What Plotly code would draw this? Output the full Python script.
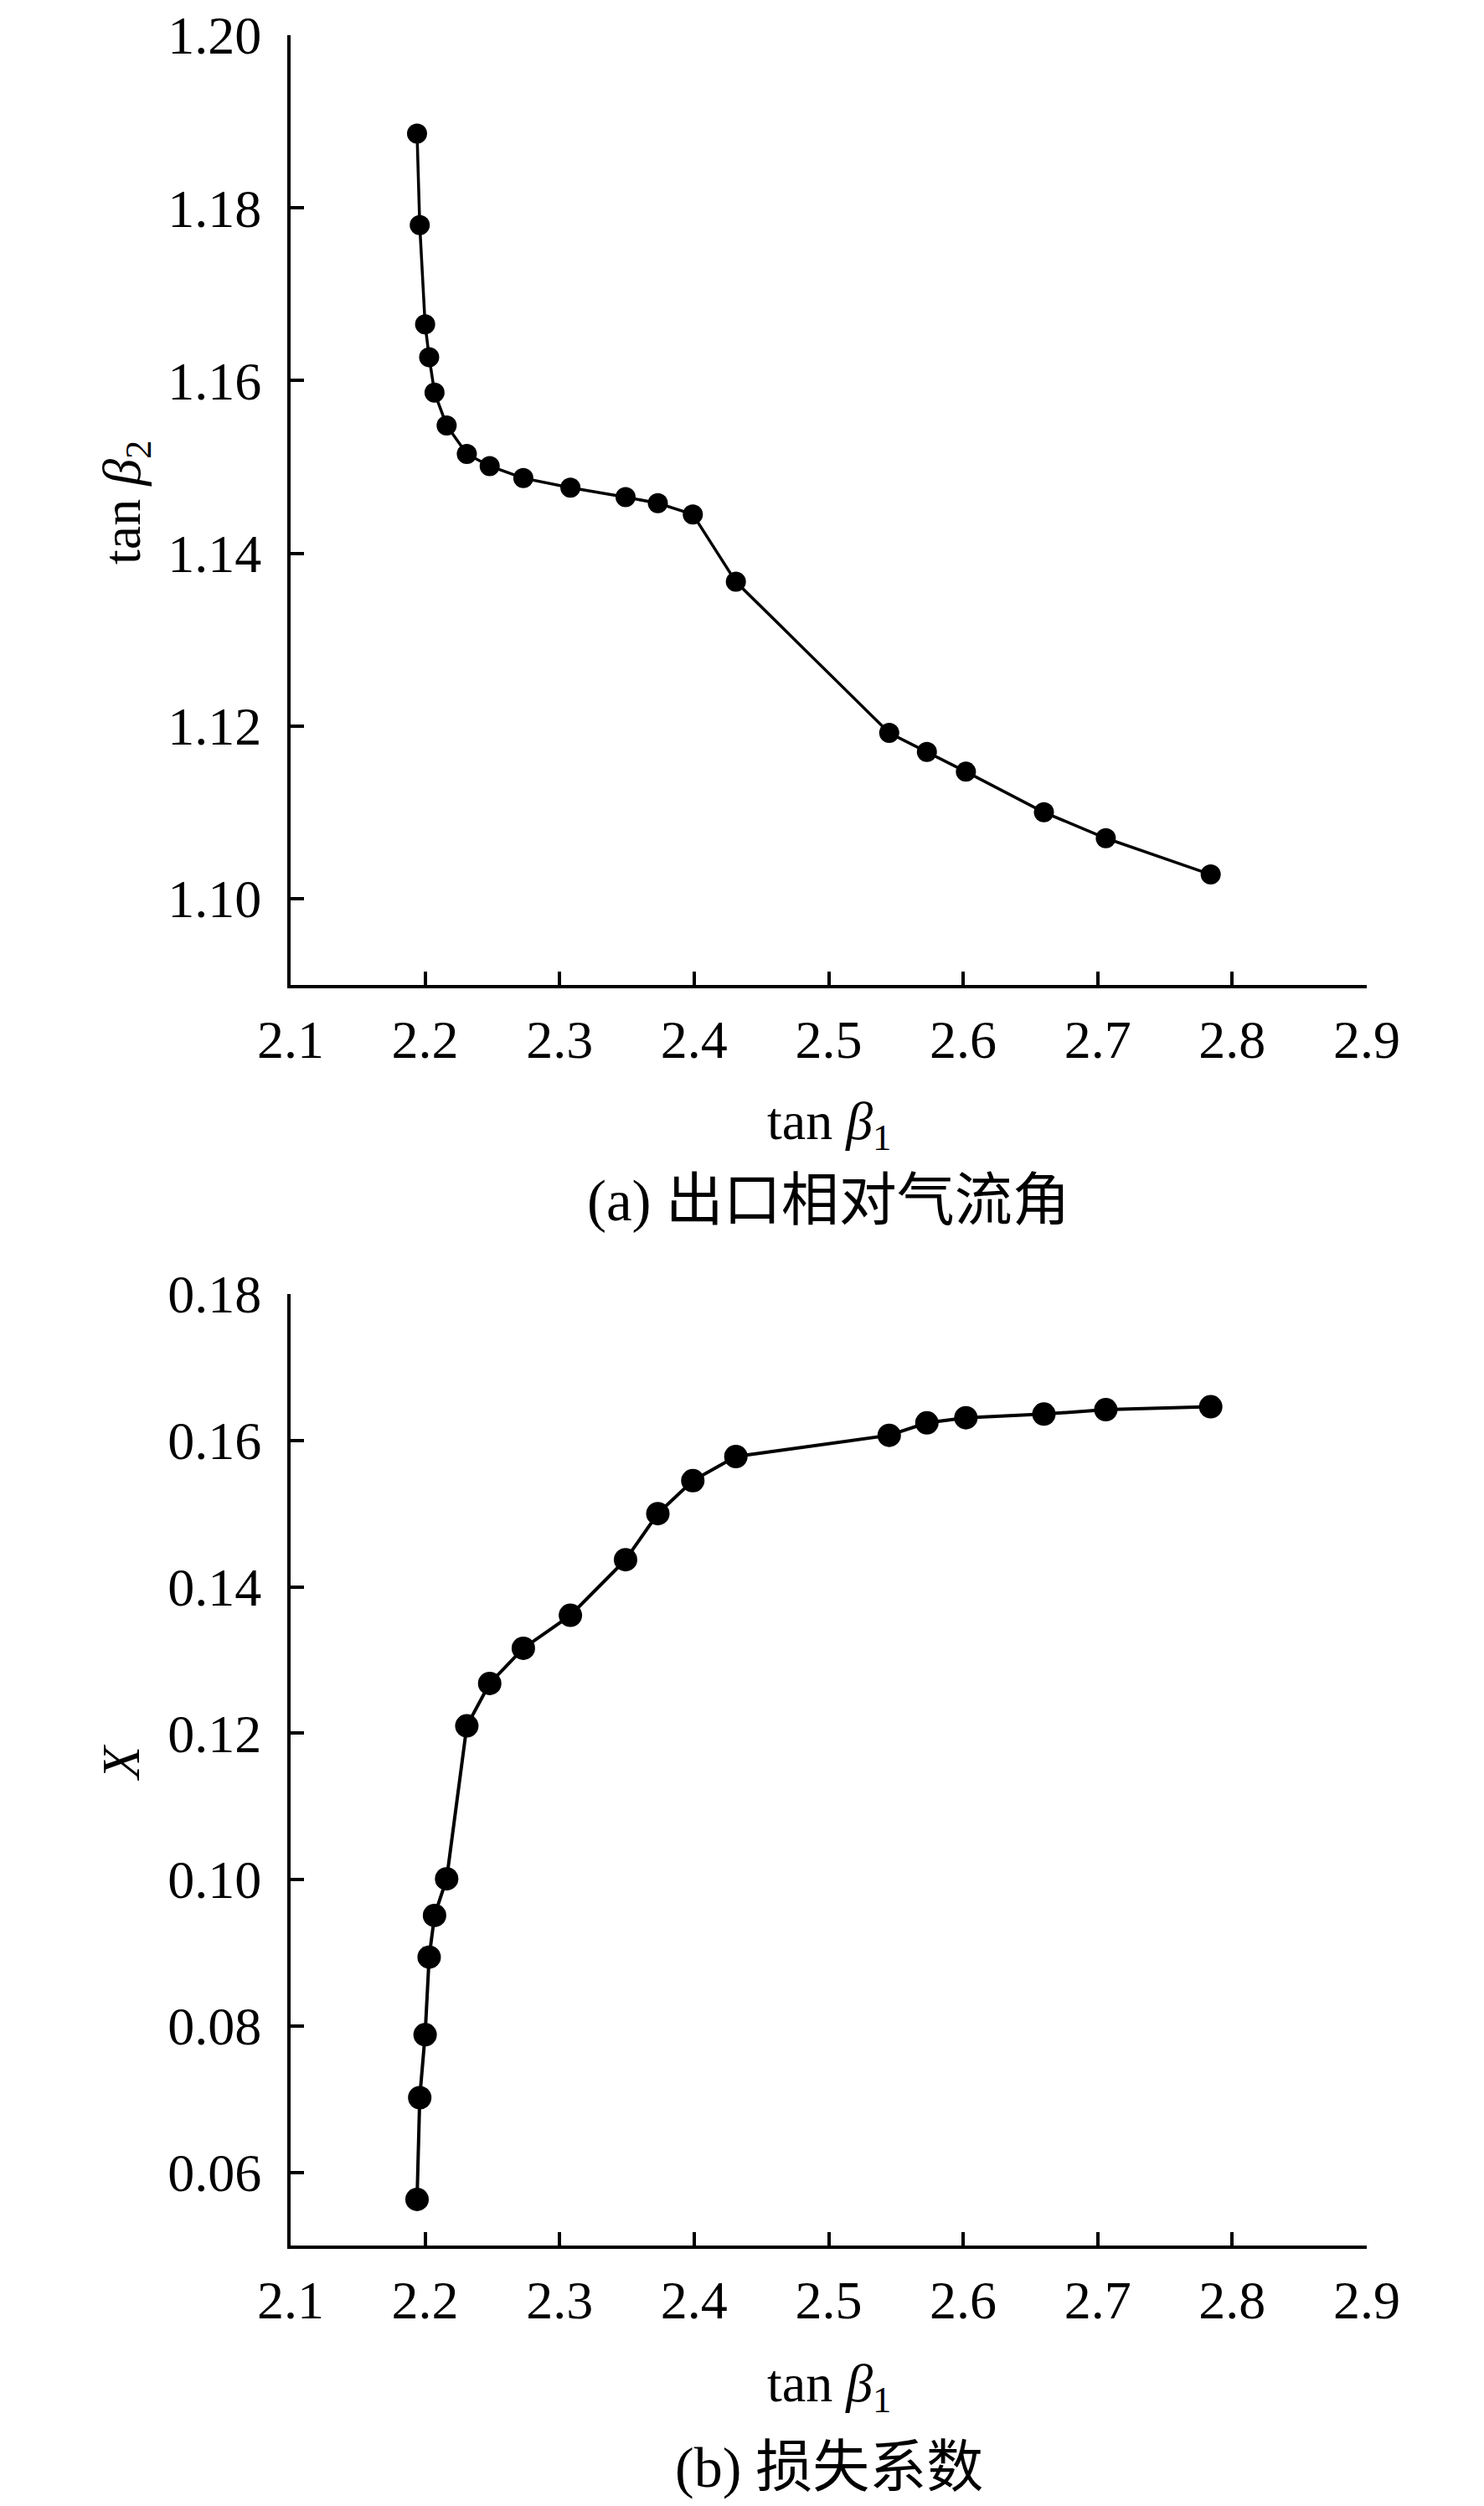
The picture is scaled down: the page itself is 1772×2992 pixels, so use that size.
from __future__ import annotations
from typing import Dict, Any, List

import plotly.graph_objects as go


# tan(beta1) operating points, shared by both panels
tan_beta1 = [2.194, 2.196, 2.200, 2.203, 2.207, 2.216, 2.231, 2.248, 2.273, 2.308,
             2.349, 2.373, 2.399, 2.431, 2.545, 2.573, 2.602, 2.660, 2.706, 2.784]

# (a) outlet relative flow angle
tan_beta2 = [1.1886, 1.1780, 1.1665, 1.1627, 1.1586, 1.1548, 1.1515, 1.1501, 1.1487, 1.1476,
             1.1465, 1.1458, 1.1445, 1.1367, 1.1192, 1.1170, 1.1147, 1.1100, 1.1070, 1.1028]

# (b) loss coefficient
loss_x = [0.0563, 0.0702, 0.0788, 0.0894, 0.0951, 0.1001, 0.1210, 0.1268, 0.1316, 0.1361,
          0.1437, 0.1500, 0.1545, 0.1578, 0.1607, 0.1624, 0.1631, 0.1636, 0.1642, 0.1646]

x_ticks = [2.1, 2.2, 2.3, 2.4, 2.5, 2.6, 2.7, 2.8, 2.9]
y_ticks_a = [1.10, 1.12, 1.14, 1.16, 1.18, 1.20]
y_ticks_b = [0.06, 0.08, 0.10, 0.12, 0.14, 0.16, 0.18]

W, H = 1772, 2992
FONT = "Liberation Serif, Times New Roman, serif"
# serif first so "(a)" stays Times-like, CJK glyphs fall back to Noto
CAP_FONT = "Liberation Serif, Noto Sans CJK SC, serif"
EPS = 1e-6  # keeps the end ticks (1.20, 0.18, 2.9) from being dropped by rounding


def _px_x(px: float) -> float:
    return px / W


def _px_y(px: float) -> float:
    # pixel row measured from the top -> paper coordinate
    return 1.0 - px / H


def _axis_style(ticks: List[float], fmt: str) -> Dict[str, Any]:
    return dict(
        tickvals=ticks,
        tickformat=fmt,
        ticks="inside",
        ticklen=16,
        tickwidth=3.5,
        tickcolor="black",
        showline=True,
        linecolor="black",
        linewidth=4,
        showgrid=False,
        zeroline=False,
        mirror=False,
        automargin=False,
        ticklabeloverflow="allow",  # "1.20" sits right at the top edge of the page
        tickfont=dict(family=FONT, size=64, color="black"),
    )


def main() -> None:
    fig = go.Figure()

    fig.add_trace(go.Scatter(
        x=tan_beta1, y=tan_beta2, mode="lines+markers",
        line=dict(color="black", width=3.5),
        marker=dict(color="black", size=24),
        xaxis="x", yaxis="y", showlegend=False,
    ))
    fig.add_trace(go.Scatter(
        x=tan_beta1, y=loss_x, mode="lines+markers",
        line=dict(color="black", width=4),
        marker=dict(color="black", size=28),
        xaxis="x2", yaxis="y2", showlegend=False,
    ))

    x_dom = [_px_x(339), _px_x(1624)]

    xa = _axis_style(x_ticks, ".1f")
    xa.update(domain=x_dom, range=[2.1, 2.9 + EPS], anchor="y", ticklabelstandoff=6)
    ya = _axis_style(y_ticks_a, ".2f")
    ya.update(domain=[_px_y(1168), _px_y(34)], range=[1.09, 1.20 + EPS], anchor="x",
              ticklabelstandoff=18)

    xb = _axis_style(x_ticks, ".1f")
    xb.update(domain=x_dom, range=[2.1, 2.9 + EPS], anchor="y2", ticklabelstandoff=6)
    yb = _axis_style(y_ticks_b, ".2f")
    yb.update(domain=[_px_y(2673), _px_y(1537)], range=[0.05, 0.18 + EPS], anchor="x2",
              ticklabelstandoff=18)

    cx = (x_dom[0] + x_dom[1]) / 2
    notes = [
        dict(text="tan <i>β</i><sub>1</sub>", x=cx, y=_px_y(1335), font=dict(family=FONT, size=64)),
        dict(text="(a) 出口相对气流角", x=cx, y=_px_y(1426), font=dict(family=CAP_FONT, size=69)),
        dict(text="tan <i>β</i><sub>1</sub>", x=cx, y=_px_y(2842), font=dict(family=FONT, size=64)),
        dict(text="(b) 损失系数", x=cx, y=_px_y(2938), font=dict(family=CAP_FONT, size=68)),
        dict(text="tan <i>β</i><sub>2</sub>", x=_px_x(142), y=_px_y(592), textangle=-90,
             font=dict(family=FONT, size=64)),
        dict(text="<i>X</i>", x=_px_x(136), y=_px_y(2097), textangle=-90,
             font=dict(family=FONT, size=64)),
    ]
    for n in notes:
        n["font"]["color"] = "black"
        fig.add_annotation(xref="paper", yref="paper", showarrow=False,
                           xanchor="center", yanchor="middle", **n)

    fig.update_layout(
        width=W, height=H,
        margin=dict(l=0, r=0, t=0, b=0, pad=0, autoexpand=False),
        paper_bgcolor="white",
        plot_bgcolor="white",
        xaxis=xa, yaxis=ya, xaxis2=xb, yaxis2=yb,
        font=dict(family=FONT, color="black"),
    )
    fig.write_html("out.html")


if __name__ == "__main__":
    main()
